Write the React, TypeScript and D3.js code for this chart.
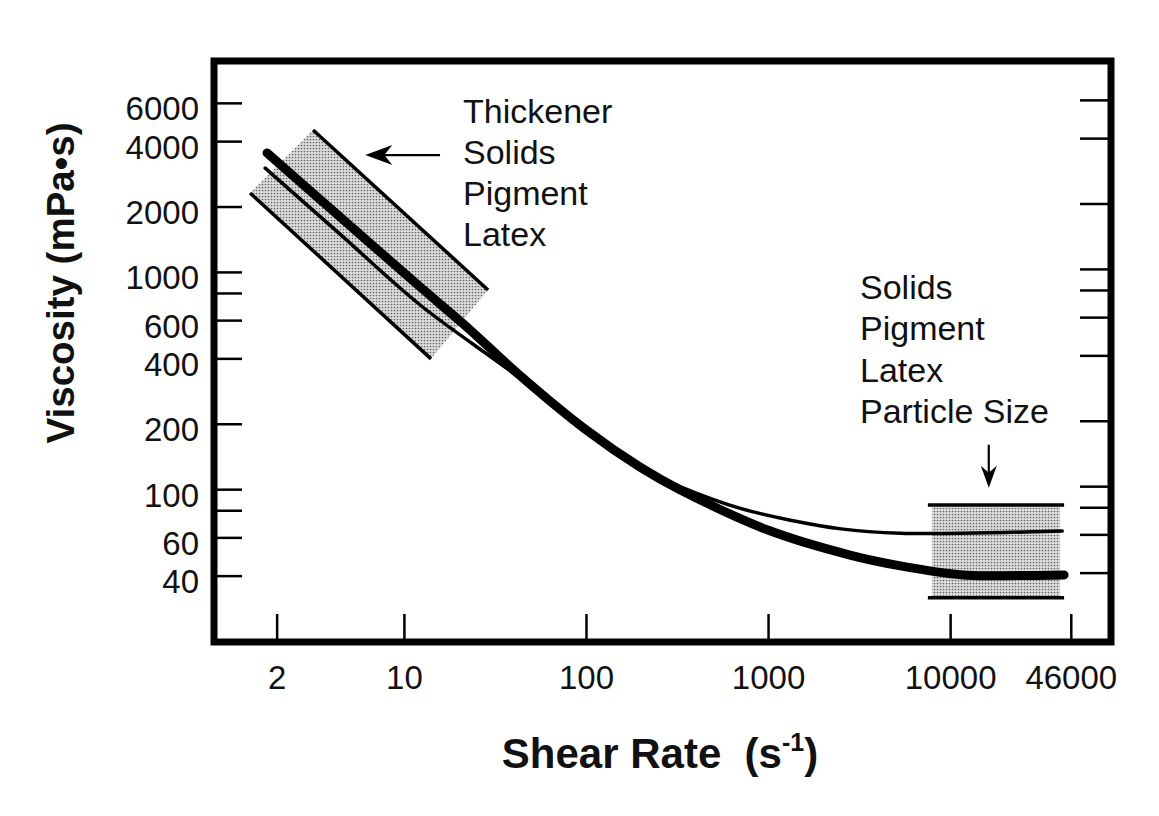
import React from "react";
import * as d3 from "d3";

// ---- data ----
const xTicks = [2, 10, 100, 1000, 10000, 46000];
const yTicks = [6000, 4000, 2000, 1000, 800, 600, 400, 200, 100, 80, 60, 40];
const yLabels = [6000, 4000, 2000, 1000, 600, 400, 200, 100, 60, 40];

const thickShear = [1.76, 4.43, 12.2, 23, 41.5, 100, 197, 326, 1000, 2800, 5300, 11700, 18700, 42000];
const thickVisc = [3550, 1800, 857, 543, 345, 188, 127, 100, 65, 50, 44.6, 40.5, 40.2, 40.5];

const thinShear = [1.72, 4.43, 12.2, 41.5, 100, 197, 339, 700, 1300, 2500, 5300, 11000, 41000];
const thinVisc = [3020, 1500, 708, 334, 186, 126, 102, 82, 72.5, 66, 63, 63, 64.5];

// low-shear band (rotated rectangle): upper and lower edges
const lowBandUpper = [[3.15, 4525], [28.8, 830]];
const lowBandLower = [[1.42, 2321], [14.0, 400]];
// high-shear band
const highBandShear = [7500, 42000];
const highBandVisc = [85, 31.8];

const leftNotes = ["Thickener", "Solids", "Pigment", "Latex"];
const rightNotes = ["Solids", "Pigment", "Latex", "Particle Size"];
const leftArrow = { from: 15.7, to: 6.1, visc: 3470 };
const downArrow = { shear: 16200, from: 161, to: 102 };

const W = 1159;
const H = 816;
const FONT = "'Liberation Sans', Arial, Helvetica, sans-serif";

export default function App() {
  const frame = { left: 214, right: 1111, top: 61, bottom: 642 };
  const x = d3.scaleLog().domain([0.9, 76000]).range([frame.left, frame.right]);
  const y = d3.scaleLog().domain([19.9, 9400]).range([frame.bottom, frame.top]);

  const line = d3
    .line<[number, number]>()
    .x((d) => x(d[0]))
    .y((d) => y(d[1]))
    .curve(d3.curveCatmullRom.alpha(0.5));

  const thick = thickShear.map((s, i) => [s, thickVisc[i]] as [number, number]);
  const thin = thinShear.map((s, i) => [s, thinVisc[i]] as [number, number]);

  const bandPoly = [lowBandUpper[0], lowBandUpper[1], lowBandLower[1], lowBandLower[0]]
    .map((p) => `${x(p[0])},${y(p[1])}`)
    .join(" ");

  // arrows
  const la1 = x(leftArrow.from);
  const la2 = x(leftArrow.to);
  const lay = y(leftArrow.visc);
  const dax = x(downArrow.shear);
  const da1 = y(downArrow.from);
  const da2 = y(downArrow.to);

  return (
    <svg
      width={W}
      height={H}
      viewBox={`0 0 ${W} ${H}`}
      style={{ position: "absolute", left: 0, top: 0, background: "#fff" }}
    >
      <defs>
        <pattern id="dots" width="3" height="3" patternUnits="userSpaceOnUse">
          <rect width="3" height="3" fill="#dedede" />
          <circle cx="1.5" cy="1.5" r="0.85" fill="#626262" />
        </pattern>
      </defs>
      <rect width={W} height={H} fill="#fff" />

      {/* bands */}
      <polygon points={bandPoly} fill="url(#dots)" />
      {[lowBandUpper, lowBandLower].map((seg, i) => (
        <line
          key={i}
          x1={x(seg[0][0])}
          y1={y(seg[0][1])}
          x2={x(seg[1][0])}
          y2={y(seg[1][1])}
          stroke="#000"
          strokeWidth={3.5}
        />
      ))}
      <rect
        x={x(highBandShear[0]) + 4}
        y={y(highBandVisc[0])}
        width={x(highBandShear[1]) - x(highBandShear[0]) - 8}
        height={y(highBandVisc[1]) - y(highBandVisc[0])}
        fill="url(#dots)"
      />
      {highBandVisc.map((v, i) => (
        <line
          key={i}
          x1={x(highBandShear[0])}
          x2={x(highBandShear[1])}
          y1={y(v)}
          y2={y(v)}
          stroke="#000"
          strokeWidth={3.5}
        />
      ))}

      {/* curves */}
      <path d={line(thin) || ""} fill="none" stroke="#000" strokeWidth={3.5} strokeLinecap="round" />
      <path d={line(thick) || ""} fill="none" stroke="#000" strokeWidth={9} strokeLinecap="round" />

      {/* ticks */}
      {yTicks.map((t) => (
        <g key={"y" + t}>
          <line x1={frame.left} x2={frame.left + 28} y1={y(t)} y2={y(t)} stroke="#000" strokeWidth={2.5} />
          <line x1={frame.right - 31} x2={frame.right} y1={y(t) - 3} y2={y(t) - 3} stroke="#000" strokeWidth={2.5} />
        </g>
      ))}
      {xTicks.map((t) => (
        <line key={"x" + t} x1={x(t)} x2={x(t)} y1={frame.bottom} y2={frame.bottom - 28} stroke="#000" strokeWidth={2.5} />
      ))}

      {/* frame */}
      <rect
        x={frame.left}
        y={frame.top}
        width={frame.right - frame.left}
        height={frame.bottom - frame.top}
        fill="none"
        stroke="#000"
        strokeWidth={7}
      />

      {/* tick labels */}
      {yLabels.map((t) => (
        <text key={"yl" + t} x={199} y={y(t) + 17} textAnchor="end" fontFamily={FONT} fontSize={33} fill="#111">
          {t}
        </text>
      ))}
      {xTicks.map((t) => (
        <text key={"xl" + t} x={x(t)} y={689} textAnchor="middle" fontFamily={FONT} fontSize={33} fill="#111">
          {t}
        </text>
      ))}

      {/* axis titles */}
      <text
        transform="translate(74,283) rotate(-90)"
        textAnchor="middle"
        fontFamily={FONT}
        fontWeight="bold"
        fontSize={38.5}
        fill="#111"
      >
        Viscosity (mPa•s)
      </text>
      <text x={660} y={768} textAnchor="middle" fontFamily={FONT} fontWeight="bold" fontSize={42} fill="#111">
        Shear Rate{"\u00a0\u00a0"}(s
        <tspan fontSize={25} dy={-17}>-1</tspan>
        <tspan dy={17}>)</tspan>
      </text>

      {/* annotations */}
      {leftNotes.map((s, i) => (
        <text key={"ln" + i} x={463} y={123 + i * 41} fontFamily={FONT} fontSize={34} fill="#111">
          {s}
        </text>
      ))}
      {rightNotes.map((s, i) => (
        <text key={"rn" + i} x={860} y={299 + i * 41.3} fontFamily={FONT} fontSize={34} fill="#111">
          {s}
        </text>
      ))}

      {/* arrows */}
      <line x1={la1} x2={la2 + 15} y1={lay} y2={lay} stroke="#000" strokeWidth={2.2} />
      <path
        d={`M${la2},${lay} L${la2 + 27},${lay - 10} L${la2 + 19},${lay} L${la2 + 27},${lay + 10} Z`}
        fill="#000"
      />
      <line x1={dax} x2={dax} y1={da1} y2={da2 - 12} stroke="#000" strokeWidth={2.2} />
      <path
        d={`M${dax},${da2} L${dax - 8},${da2 - 22} L${dax},${da2 - 15} L${dax + 8},${da2 - 22} Z`}
        fill="#000"
      />
    </svg>
  );
}
